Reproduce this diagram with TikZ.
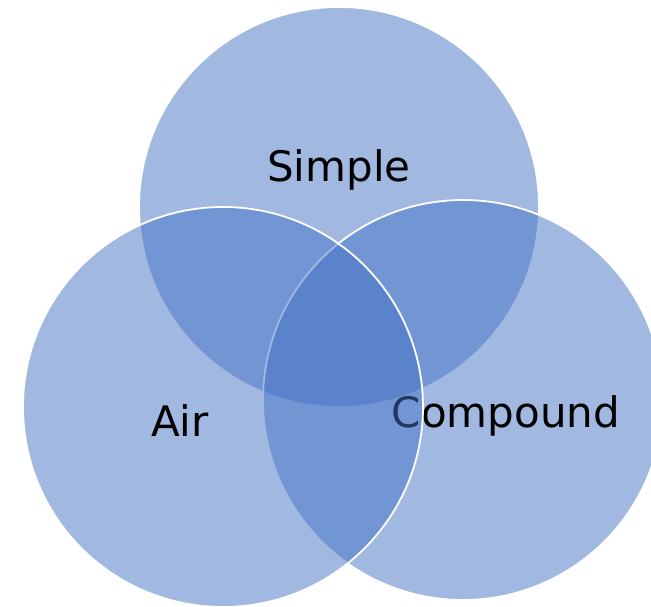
\documentclass[tikz,border=0pt]{standalone}
\usepackage{fontspec}
\setmainfont{DejaVu Sans}
\definecolor{vennblue}{HTML}{4472C4}
\begin{document}
\begin{tikzpicture}[x=1pt,y=1pt,
  setcircle/.style={circle, inner sep=0pt, minimum size=400pt,
    fill=vennblue, fill opacity=0.5, draw=white, draw opacity=1, line width=1.8pt},
  setlabel/.style={anchor=base, inner sep=0pt, text=black,
    font=\fontsize{42}{46}\selectfont}]
  \useasboundingbox (0,0) rectangle (651,607);
  \clip (0,0) rectangle (651,607);
  % top set
  \node[setcircle] (simple) at (339,400) {};
  \node[setlabel] (simpleText) at (339,425) {Simple};
  % right set
  \node[setcircle] (compound) at (463,207) {};
  \node[setlabel] (compoundText) at (506,179) {Compound};
  % left set, drawn last so its outline lies on top
  \node[setcircle] (air) at (223,200) {};
  \node[setlabel] (airText) at (180,170) {Air};
\end{tikzpicture}
\end{document}
